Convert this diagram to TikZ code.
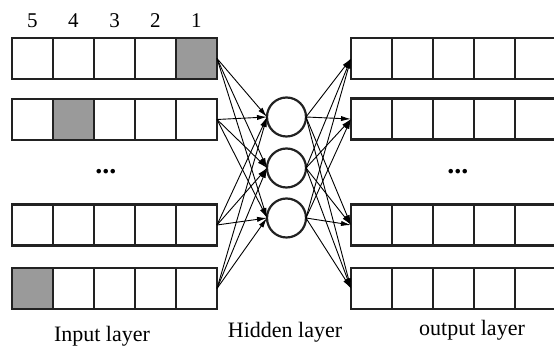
\documentclass[tikz,border=0pt]{standalone}
\usepackage{fontspec}
\setmainfont{Liberation Serif}
\usetikzlibrary{positioning,arrows.meta}
\definecolor{cellgray}{HTML}{9A9A9A}
\definecolor{edgeblack}{HTML}{222222}

\tikzset{
  cell/.style={draw=edgeblack,line width=1.3pt,minimum width=20.5pt,
    minimum height=20.5pt,inner sep=0pt,outer sep=0pt},
  neuron/.style={circle,draw=edgeblack,line width=1.1pt,minimum size=19.5pt,
    inner sep=0pt,outer sep=0pt},
  link/.style={line width=0.45pt,-{Latex[length=5pt,width=2.6pt]}},
  digit/.style={font=\fontsize{10.5}{12}\selectfont,inner sep=0pt},
  dots/.style={font=\fontsize{14}{14}\selectfont\bfseries,inner sep=0pt},
  caption/.style={font=\fontsize{11}{12}\selectfont,anchor=base,inner sep=0pt},
}

\begin{document}
\begin{tikzpicture}[x=0.5pt,y=-0.5pt]
  \useasboundingbox (0,0) rectangle (554,347);

  % input rows, the shaded cell is the one hot entry
  \foreach \r/\y/\g in {1/58.5/5,2/119.5/2,3/225/0,4/288.5/1}{
    \foreach \c in {1,...,5}{
      \ifnum\c=\g \def\cellfill{cellgray}\else\def\cellfill{white}\fi
      \node[cell,fill=\cellfill] (in\r-\c) at ({32.5+41*(\c-1)},\y) {};
    }
  }
  % position numbers over the first row
  \foreach \c in {1,...,5}
    \node[digit,above=5pt of in1-\c] (pos\c) {\the\numexpr6-\c\relax};

  % output rows
  \foreach \r/\y in {1/58.5,2/119,3/225,4/288.5}
    \foreach \c in {1,...,5}
      \node[cell,fill=white] (out\r-\c) at ({371.5+41*(\c-1)},\y) {};

  % hidden units
  \node[neuron] (h1) at (286.5,117) {};
  \node[neuron] (h2) at (286.5,168) {};
  \node[neuron] (h3) at (286.5,218) {};

  \node[dots] (indots) at (106,172) {...};
  \node[dots] (outdots) at (458,172) {...};

  % full connections
  \foreach \r in {1,...,4}
    \foreach \h in {1,2,3}{
      \draw[link] (in\r-5.east) -- (h\h.west);
      \draw[link] (h\h.east) -- (out\r-1.west);
    }

  \node[caption] (inlabel) at (102,342) {Input layer};
  \node[caption] (hidlabel) at (285,338) {Hidden layer};
  \node[caption] (outlabel) at (472,336) {output layer};
\end{tikzpicture}
\end{document}
